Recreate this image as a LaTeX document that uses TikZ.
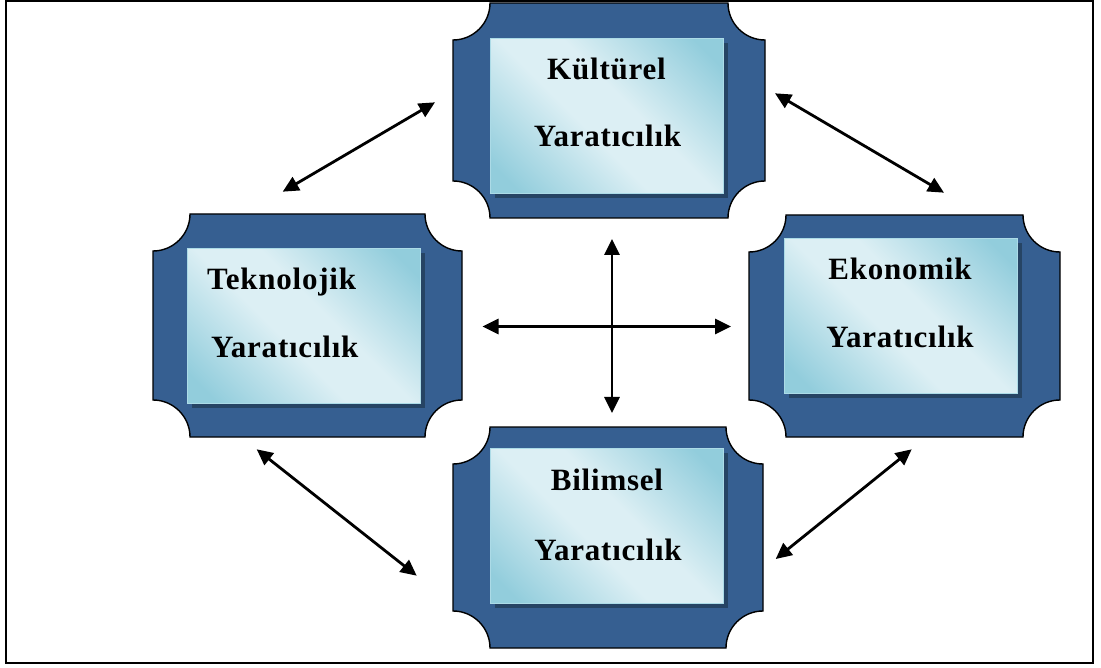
\documentclass[tikz,border=0pt]{standalone}
\usepackage{fontspec}
\setmainfont{Liberation Serif}
\newfontfamily\lblfont[LetterSpace=2.5]{Liberation Serif}
\usetikzlibrary{arrows.meta}
\definecolor{platecol}{RGB}{54,95,145}
\definecolor{ilight}{RGB}{220,239,244}
\definecolor{idark}{RGB}{146,205,220}
\definecolor{ishadow}{RGB}{38,68,100}
\definecolor{iborder}{RGB}{172,219,231}
\pgfdeclarehorizontalshading{innershade}{100bp}{color(0bp)=(idark); color(20bp)=(idark); color(44bp)=(ilight); color(56bp)=(ilight); color(80bp)=(idark); color(100bp)=(idark)}
\newcommand\myplate[4]{%
  \draw[platestyle] (#1+37,#2) -- (#3-37,#2)
    .. controls (#3-37,#2+20.4) and (#3-20.4,#2+37) .. (#3,#2+37)
    -- (#3,#4-37)
    .. controls (#3-20.4,#4-37) and (#3-37,#4-20.4) .. (#3-37,#4)
    -- (#1+37,#4)
    .. controls (#1+37,#4-20.4) and (#1+20.4,#4-37) .. (#1,#4-37)
    -- (#1,#2+37)
    .. controls (#1+20.4,#2+37) and (#1+37,#2+20.4) .. cycle;}
\tikzset{
  platestyle/.style={fill=platecol, draw=black, line width=1.4pt},
  innerbox/.style={shading=innershade, shading angle=45, draw=iborder, line width=1.2pt,
    inner sep=0pt, minimum width=233pt, minimum height=155pt, anchor=north west,
    preaction={fill=ishadow, transform canvas={shift={(4pt,-4pt)}}}},
  lbl/.style={font=\lblfont\fontsize{31}{31}\selectfont\bfseries, inner sep=0pt},
  conn/.style={{Triangle[length=16pt,width=15pt]}-{Triangle[length=16pt,width=15pt]}, line width=2.8pt},
}
\begin{document}
\begin{tikzpicture}[x=1pt,y=-1pt]
\useasboundingbox (0,0) rectangle (1101,668);
\draw[line width=2pt] (6,1) rectangle (1093,663);
% plates
\myplate{453}{3}{765}{218}
\myplate{153}{214}{462}{437}
\myplate{749}{215}{1060}{437}
\myplate{453}{427}{763}{648}
% inner boxes
\node[innerbox] (kb) at (490,38) {};
\node[innerbox] (tb) at (187,248) {};
\node[innerbox] (eb) at (784,238) {};
\node[innerbox] (bb) at (490,448) {};
% labels
\node[lbl, anchor=base] (k1) at (606.5,80) {Kültürel};
\node[lbl, anchor=base] (k2) at (607.5,147) {Yaratıcılık};
\node[lbl, anchor=base west] (t1) at (207,290) {Teknolojik};
\node[lbl, anchor=base west] (t2) at (211,358) {Yaratıcılık};
\node[lbl, anchor=base] (e1) at (900,280) {Ekonomik};
\node[lbl, anchor=base] (e2) at (900,348) {Yaratıcılık};
\node[lbl, anchor=base] (b1) at (607,490) {Bilimsel};
\node[lbl, anchor=base] (b2) at (608,560) {Yaratıcılık};
% arrow ends
\coordinate (vt) at (612,239);
\coordinate (vb) at (612,413);
\coordinate (hl) at (482.5,326.5);
\coordinate (hr) at (731,326.5);
\coordinate (a1) at (282.7,191.7);
\coordinate (a2) at (435,102.3);
\coordinate (b1a) at (256.7,449.3);
\coordinate (b2a) at (416.7,575.7);
\coordinate (c1) at (775,93.3);
\coordinate (c2) at (944,192.7);
\coordinate (d1) at (911.7,449.3);
\coordinate (d2) at (775.7,559);
\draw[conn] (vt) -- (vb);
\draw[conn] (hl) -- (hr);
\draw[conn] (a1) -- (a2);
\draw[conn] (b1a) -- (b2a);
\draw[conn] (c1) -- (c2);
\draw[conn] (d1) -- (d2);
\end{tikzpicture}
\end{document}
